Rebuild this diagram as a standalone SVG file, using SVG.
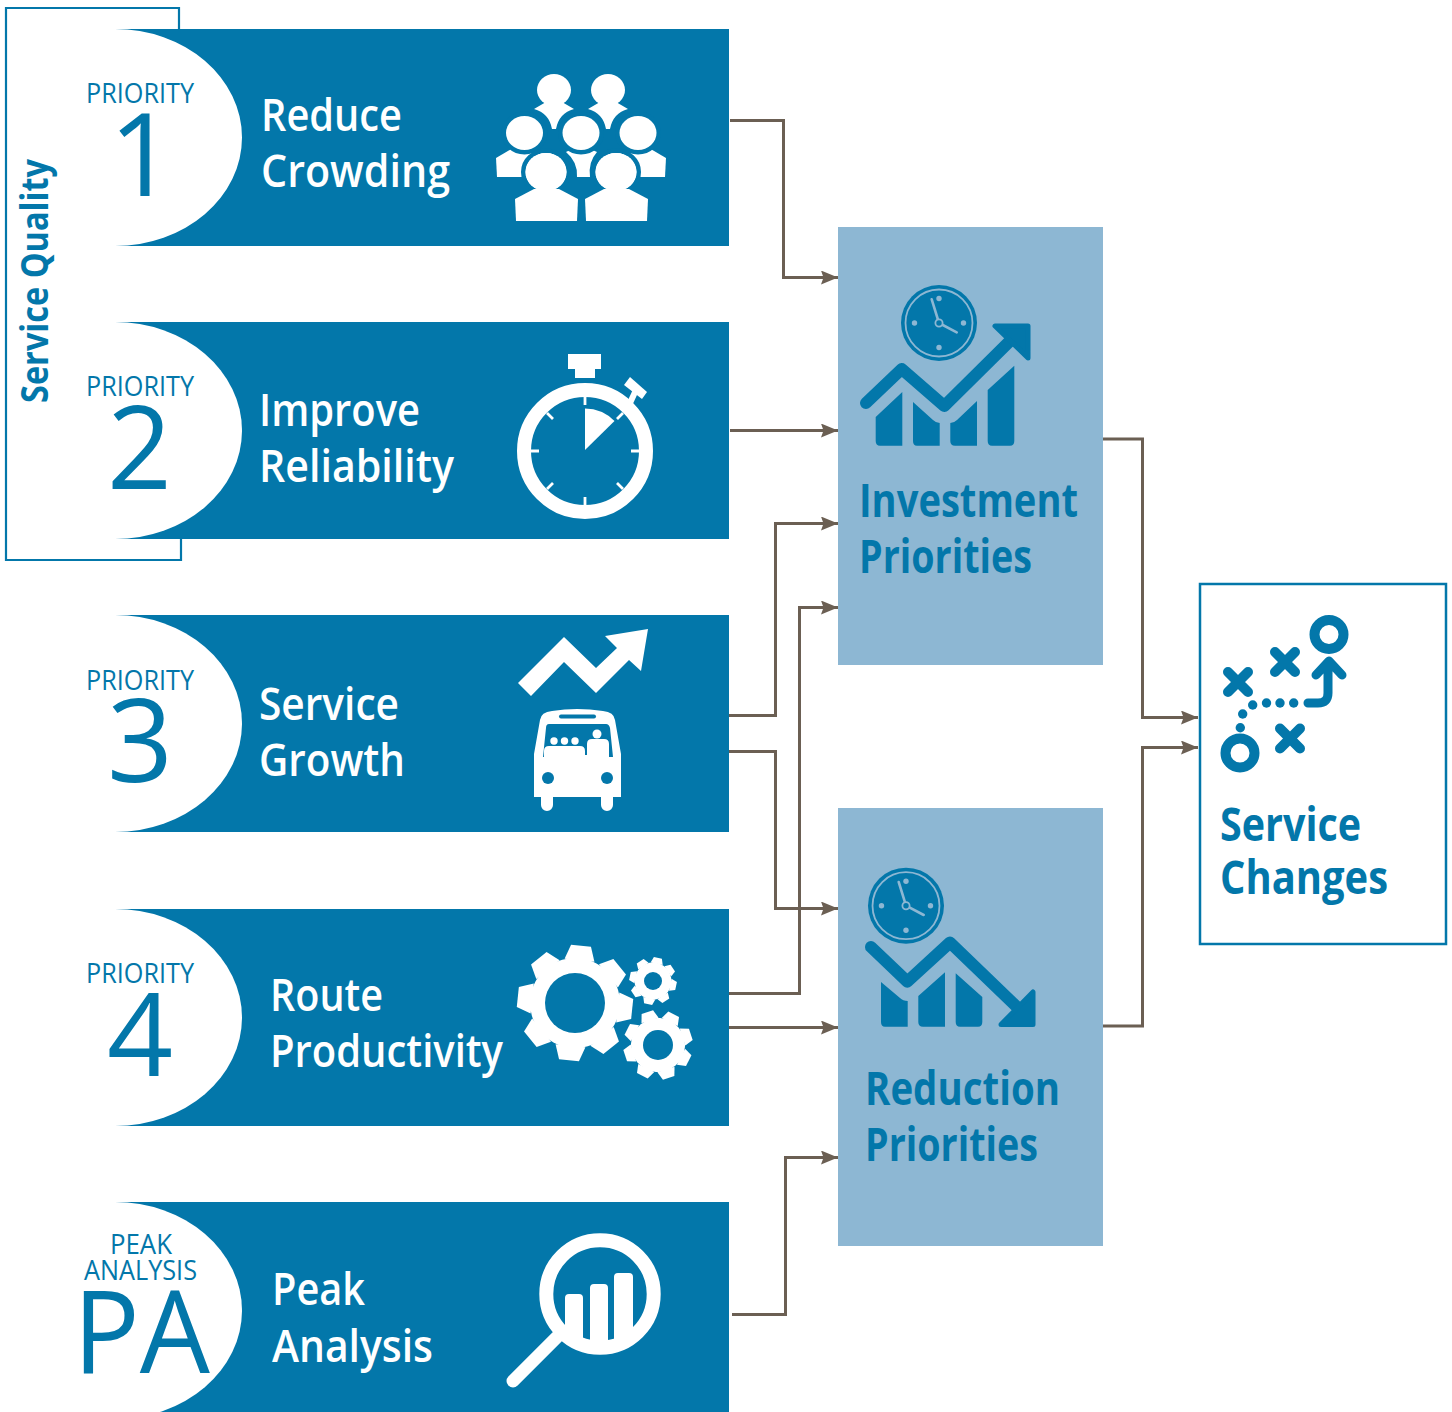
<svg xmlns="http://www.w3.org/2000/svg" xmlns:xlink="http://www.w3.org/1999/xlink" width="1452" height="1412" viewBox="0 0 1452 1412">
<style>
text{font-family:"Open Sans","Noto Sans","Liberation Sans",sans-serif}
.band{fill:#0377aa}
.cap{fill:#fff}
.lbl{fill:#fff;font-size:46px;font-weight:600}
.pri{fill:#0377aa;font-size:27px;font-weight:400}
.num{fill:#0377aa;font-size:116px;font-weight:500}
.title{fill:#0377aa;font-size:46px;font-weight:700}
.panel{fill:#8db7d3}
.conn{fill:none;stroke:#6b5f53;stroke-width:3;marker-end:url(#ah)}
.w{fill:#fff}
.b{fill:#0377aa}
.ln{fill:none;stroke:#0377aa;stroke-linejoin:round;stroke-linecap:round}
.halo{fill:#fff;stroke:#0377aa;stroke-width:9;paint-order:stroke}
</style>
<defs>
<marker id="ah" markerUnits="userSpaceOnUse" markerWidth="18" markerHeight="14" refX="17" refY="7" orient="auto"><path d="M0 0L17 7L0 14L2.500 7Z" fill="#6b5f53"/></marker>
<g id="tooth"><polygon points="-15,-43 -10,-57.500 10,-57.500 15,-43"/></g>
<g id="gear" class="w"><circle r="45"/><use href="#tooth"/><use href="#tooth" transform="rotate(45)"/><use href="#tooth" transform="rotate(90)"/><use href="#tooth" transform="rotate(135)"/><use href="#tooth" transform="rotate(180)"/><use href="#tooth" transform="rotate(225)"/><use href="#tooth" transform="rotate(270)"/><use href="#tooth" transform="rotate(315)"/></g>
<g id="clock"><circle r="38" class="b"/><circle r="33.500" fill="none" stroke="#8db7d3" stroke-width="1.800"/><g fill="#8db7d3"><circle cy="-24.500" r="2.700"/><circle cy="24.500" r="2.700"/><circle cx="-24.500" r="2.700"/><circle cx="24.500" r="2.700"/></g><path d="M0 0L-7.300-23.700M0 0L17.700 9.300" fill="none" stroke="#8db7d3" stroke-width="2.600" stroke-linecap="round"/><circle r="3.600" class="b" stroke="#8db7d3" stroke-width="1.800"/></g>
</defs>

<g id="service-quality"><path d="M179 29V8H6V560H181V539" fill="none" stroke="#0377aa" stroke-width="2.200"/><text transform="translate(48 403) rotate(-90)" fill="#0377aa" font-size="38" font-weight="700" textLength="244" lengthAdjust="spacingAndGlyphs">Service Quality</text></g>

<g id="priority-1"><rect class="band" x="98" y="29" width="631" height="217"/><path class="cap" d="M98 29H115A127 108.500 0 0 1 115 246H98Z"/>
<text class="pri" x="86" y="103" textLength="108" lengthAdjust="spacingAndGlyphs">PRIORITY</text><text class="num" x="109" y="196" textLength="66" lengthAdjust="spacingAndGlyphs">1</text>
<text class="lbl" x="261" y="131" textLength="141" lengthAdjust="spacingAndGlyphs">Reduce</text><text class="lbl" x="261" y="187" textLength="189" lengthAdjust="spacingAndGlyphs">Crowding</text>
<g id="crowd">
<ellipse class="w" cx="554" cy="90" rx="17" ry="16"/><path class="w" d="M534 109L546 102H562L574 109Q559 113 556 129H552Q549 113 534 109Z"/>
<ellipse class="w" cx="608" cy="90" rx="17" ry="16"/><path class="w" d="M588 109L600 102H616L628 109Q613 113 610 129H606Q603 113 588 109Z"/>
<path class="w" d="M496 158L513 148H536V177H497Z"/><path class="w" d="M666 158L649 148H626V177H665Z"/><path class="w" d="M566 152L574 148H588L597 152Q588 162 590 177H577Q578 162 566 152Z"/>
<ellipse class="halo" cx="524.500" cy="133" rx="18.500" ry="17"/><ellipse class="halo" cx="581" cy="133" rx="18.500" ry="17"/><ellipse class="halo" cx="638" cy="133" rx="18.500" ry="17"/>
<ellipse class="halo" cx="546" cy="172" rx="20.500" ry="19"/><ellipse class="halo" cx="616" cy="172" rx="20.500" ry="19"/>
<path class="w" d="M515 199L534 189H559L578 199L577 221H516Z"/><path class="w" d="M585 199L604 189H629L648 199L647 221H586Z"/>
<ellipse class="w" cx="546" cy="172" rx="20.500" ry="19"/><ellipse class="w" cx="616" cy="172" rx="20.500" ry="19"/>
</g></g>

<g id="priority-2"><rect class="band" x="92" y="322" width="637" height="217"/><path class="cap" d="M92 322H115A127 108.500 0 0 1 115 539H92Z"/>
<text class="pri" x="86" y="396" textLength="108" lengthAdjust="spacingAndGlyphs">PRIORITY</text><text class="num" x="107" y="489" textLength="65" lengthAdjust="spacingAndGlyphs">2</text>
<text class="lbl" x="259" y="426" textLength="161" lengthAdjust="spacingAndGlyphs">Improve</text><text class="lbl" x="259" y="482" textLength="195" lengthAdjust="spacingAndGlyphs">Reliability</text>
<g id="stopwatch"><circle cx="585" cy="451" r="61" fill="none" stroke="#fff" stroke-width="14"/>
<path d="M568 354H601V369H595V378H575V369H568Z" class="w"/><path d="M624 385L630 377L647 392L642 399Z" class="w"/><path d="M630 403L636 390" stroke="#fff" stroke-width="6"/>
<path d="M585 397V405M585 497V505M531 451H539M631 451H639M547 413L553 419M623 413L617 419M547 489L553 483M623 489L617 483" stroke="#fff" stroke-width="2.800"/>
<path d="M585 450V408.500A42 42 0 0 1 614.500 421Z" class="w"/></g></g>

<g id="priority-3"><rect class="band" x="98" y="615" width="631" height="217"/><path class="cap" d="M98 615H115A127 108.500 0 0 1 115 832H98Z"/>
<text class="pri" x="86" y="690" textLength="108" lengthAdjust="spacingAndGlyphs">PRIORITY</text><text class="num" x="107" y="782" textLength="66" lengthAdjust="spacingAndGlyphs">3</text>
<text class="lbl" x="259" y="720" textLength="140" lengthAdjust="spacingAndGlyphs">Service</text><text class="lbl" x="259" y="776" textLength="146" lengthAdjust="spacingAndGlyphs">Growth</text>
<g id="growth-bus"><path class="w" d="M518 683L564 637L596 668L617 648L605 636L648 629L641 671L629 660L596 693L564 662L531 696Z"/>
<path class="w" d="M534 754L540 720Q541 712 552 711Q577 707 603 711Q614 712 615 720L621 754V797H613V805A6 6 0 0 1 601 805V797H553V805A6 6 0 0 1 541 805V797H534Z"/>
<path class="b" d="M549 724H606Q609 724 610 728L613 757H543L546 728Q546 724 549 724Z"/><rect class="b" x="559" y="714.500" width="37" height="4" rx="2"/>
<path class="w" d="M544 757V751Q544 746 549 746H580Q585 746 585 751V757ZM587 757V744Q587 739 592 739H604Q609 739 609 744V757Z"/><rect class="w" x="544" y="755" width="65" height="6"/>
<circle class="w" cx="554" cy="741" r="3.700"/><circle class="w" cx="564.500" cy="741" r="3.700"/><circle class="w" cx="575" cy="741" r="3.700"/><circle class="w" cx="597" cy="734" r="4.500"/>
<circle class="b" cx="548" cy="778" r="6"/><circle class="b" cx="607" cy="778" r="6"/></g></g>

<g id="priority-4"><rect class="band" x="98" y="909" width="631" height="217"/><path class="cap" d="M98 909H115A127 108.500 0 0 1 115 1126H98Z"/>
<text class="pri" x="86" y="983" textLength="108" lengthAdjust="spacingAndGlyphs">PRIORITY</text><text class="num" x="107" y="1076" textLength="66" lengthAdjust="spacingAndGlyphs">4</text>
<text class="lbl" x="270" y="1011" textLength="113" lengthAdjust="spacingAndGlyphs">Route</text><text class="lbl" x="270" y="1067" textLength="233" lengthAdjust="spacingAndGlyphs">Productivity</text>
<g id="gears"><use href="#gear" transform="translate(575 1003) rotate(6)"/><circle class="b" cx="575" cy="1003" r="30"/>
<use href="#gear" transform="translate(658 1045) rotate(-18) scale(.6)"/><circle class="b" cx="658" cy="1045" r="15"/>
<use href="#gear" transform="translate(653 981) rotate(12) scale(.41)"/><circle class="b" cx="653" cy="981" r="9"/></g></g>

<g id="peak-analysis"><rect class="band" x="92" y="1202" width="637" height="210"/><path class="cap" d="M92 1202H115A127 108.500 0 0 1 115 1419H92Z"/>
<text class="pri" x="110" y="1254" textLength="62" lengthAdjust="spacingAndGlyphs">PEAK</text><text class="pri" x="84" y="1280" textLength="113" lengthAdjust="spacingAndGlyphs">ANALYSIS</text><text class="num" x="73" y="1373" textLength="137" lengthAdjust="spacingAndGlyphs">PA</text>
<text class="lbl" x="272" y="1305" textLength="93" lengthAdjust="spacingAndGlyphs">Peak</text><text class="lbl" x="272" y="1362" textLength="161" lengthAdjust="spacingAndGlyphs">Analysis</text>
<g id="magnifier"><path class="w" d="M565 1342V1298Q565 1294 569 1294H579Q583 1294 583 1298V1342ZM590 1342V1288Q590 1284 594 1284H604Q608 1284 608 1288V1342ZM614 1342V1277Q614 1273 618 1273H629Q633 1273 633 1277V1342Z"/><circle cx="600" cy="1294" r="53.700" fill="none" stroke="#fff" stroke-width="14"/><path d="M513 1381L557 1337" stroke="#fff" stroke-width="13" stroke-linecap="round"/></g></g>

<g id="investment-priorities"><rect class="panel" x="838" y="227" width="265" height="438"/>
<use href="#clock" transform="translate(939 323)"/>
<path class="ln" stroke-width="12" d="M866 403L901.700 369L944.300 406L1018 333"/><path class="b" stroke="#0377aa" stroke-width="5" stroke-linejoin="round" d="M995 326H1028V358Z"/>
<path class="b" d="M875.700 417L902.300 392V445.700H880Q875.700 445.700 875.700 441ZM913 402L933 420Q936 423 939.700 423V445.700H917Q913 445.700 913 441ZM950.300 423Q954 423 957 420L977 401V445.700H955Q950.300 445.700 950.300 441ZM987.700 390L1014.300 365.700V441Q1014.300 445.700 1010 445.700H992Q987.700 445.700 987.700 441Z"/>
<text class="title" x="859" y="517" textLength="219" lengthAdjust="spacingAndGlyphs">Investment</text><text class="title" x="859" y="573" textLength="173" lengthAdjust="spacingAndGlyphs">Priorities</text></g>

<g id="reduction-priorities"><rect class="panel" x="838" y="808" width="265" height="438"/>
<use href="#clock" transform="translate(906 905.700)"/>
<path class="ln" stroke-width="12" d="M871 947L907.300 981.700L950 942.500L1018 1008"/><path class="b" stroke="#0377aa" stroke-width="5" stroke-linejoin="round" d="M1033 992V1024.500H1001Z"/>
<path class="b" d="M881 982L900 998Q903 1001 907.700 1001V1026.700H885Q881 1026.700 881 1022ZM918.300 996L945 972.300V1026.700H923Q918.300 1026.700 918.300 1022ZM955.700 973.300L982.300 997V1022Q982.300 1026.700 978 1026.700H960Q955.700 1026.700 955.700 1022Z"/>
<text class="title" x="865" y="1105" textLength="195" lengthAdjust="spacingAndGlyphs">Reduction</text><text class="title" x="865" y="1161" textLength="173" lengthAdjust="spacingAndGlyphs">Priorities</text></g>

<g id="service-changes"><rect x="1200" y="584" width="246" height="360" fill="#fff" stroke="#0377aa" stroke-width="2.500"/>
<circle cx="1329" cy="634.500" r="14.500" fill="none" stroke="#0377aa" stroke-width="10"/><circle cx="1240" cy="753" r="14.500" fill="none" stroke="#0377aa" stroke-width="10"/>
<path class="ln" stroke-width="10" d="M1275 652L1295 672M1295 652L1275 672M1228 672L1248 692M1248 672L1228 692M1280 728.500L1300 748.500M1300 728.500L1280 748.500"/>
<path class="ln" stroke-width="9" d="M1308 703H1318Q1328 703 1328 693V666M1316 675L1329 661L1342 675"/>
<g class="b"><circle cx="1293.700" cy="703" r="4.700"/><circle cx="1280" cy="703" r="4.700"/><circle cx="1266.500" cy="703" r="4.700"/><circle cx="1252.700" cy="705" r="4.700"/><circle cx="1242.700" cy="714" r="4.700"/><circle cx="1240.300" cy="727.700" r="4.700"/></g>
<text class="title" x="1220" y="841" textLength="141" lengthAdjust="spacingAndGlyphs">Service</text><text class="title" x="1220" y="894" textLength="168" lengthAdjust="spacingAndGlyphs">Changes</text></g>

<g id="connectors">
<path class="conn" d="M730 120.500H783.500V277.500H838"/>
<path class="conn" d="M730 430.500H838"/>
<path class="conn" d="M729 715.500H775.500V523.500H838"/>
<path class="conn" d="M729 751.500H775.500V908.500H838"/>
<path class="conn" d="M729 993.500H799.500V607.500H838"/>
<path class="conn" d="M729 1027.500H838"/>
<path class="conn" d="M732 1314.500H785.500V1157.500H838"/>
<path class="conn" d="M1103 439H1142.500V717.500H1198"/>
<path class="conn" d="M1103 1026H1142.500V747.500H1198"/>
</g>
</svg>
